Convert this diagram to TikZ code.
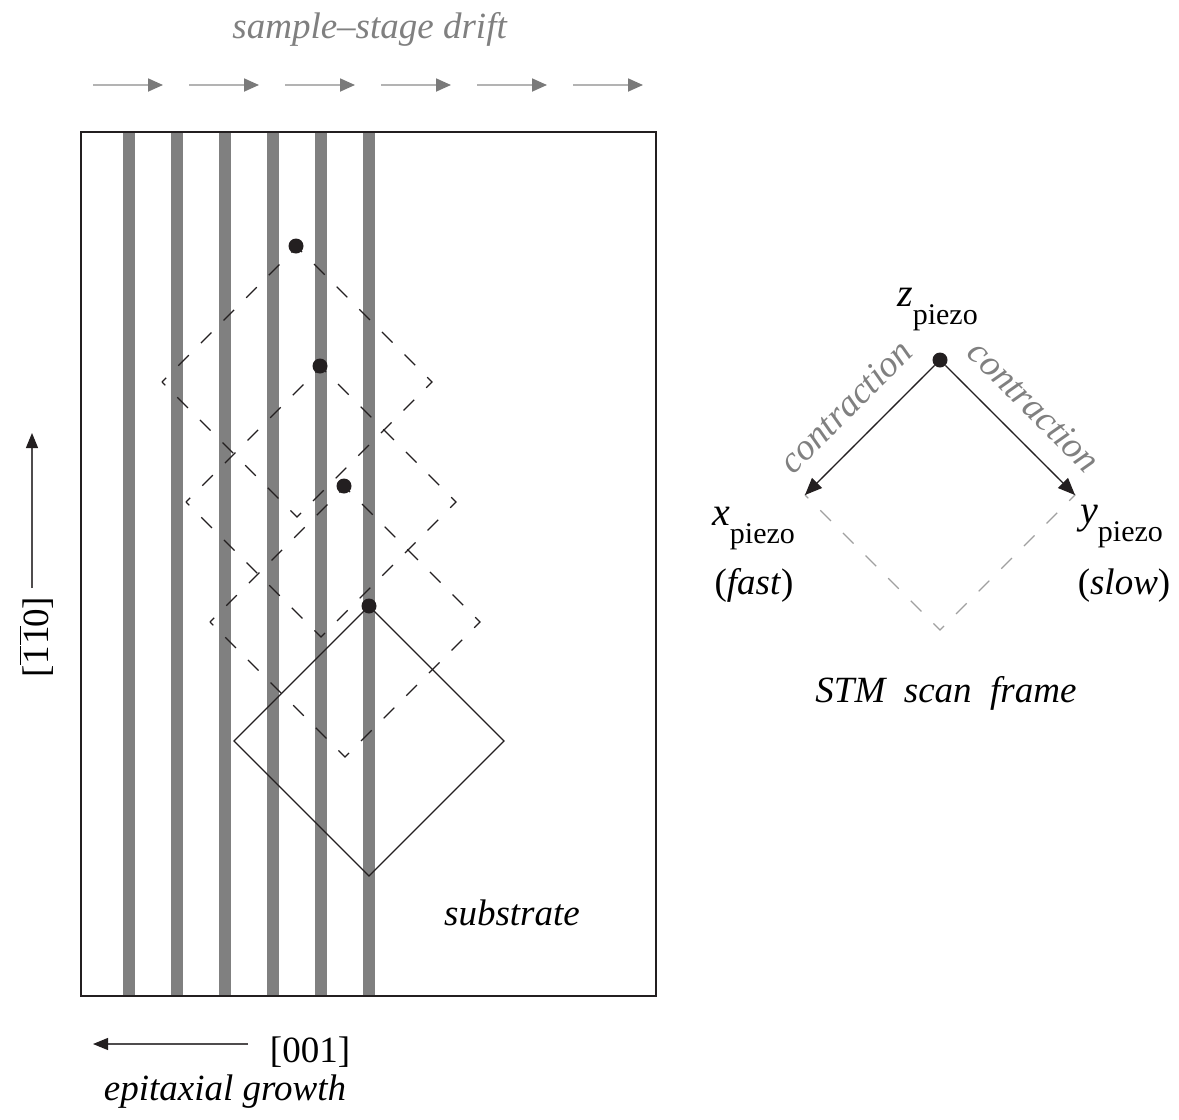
\documentclass[tikz,border=0pt]{standalone}
\usepackage{fontspec}
\setmainfont{Liberation Serif}
\usetikzlibrary{arrows.meta}

\definecolor{stripegray}{HTML}{808080}
\definecolor{inkdark}{HTML}{231F20}
\definecolor{driftline}{HTML}{B3B3B3}
\definecolor{drifthead}{HTML}{7A7A7A}
\definecolor{labelgray}{HTML}{808080}
\definecolor{framegray}{HTML}{A0A0A0}

% digit with an overbar, for Miller indices
\newcommand\barone{\leavevmode\vbox{\hrule height 1.3pt\kern 2.5pt\hbox{1}}}

\begin{document}
\begin{tikzpicture}[x=1pt,y=-1pt,
  txt/.style={font=\fontsize{37}{40}\selectfont, inner sep=0pt},
  graytxt/.style={txt, text=labelgray},
  stripe/.style={fill=stripegray, draw=none},
  dot/.style={circle, fill=inkdark, draw=none, inner sep=0pt, minimum size=15pt},
  scanpath/.style={draw=inkdark, line width=1.1pt, line join=miter,
    dash pattern=on 15pt off 17pt, dash phase=9pt},
  scanframe/.style={draw=inkdark, line width=1.1pt, line join=miter},
  piezoframe/.style={draw=framegray, line width=1.1pt, line join=miter,
    dash pattern=on 15pt off 17pt, dash phase=9pt},
  drift/.style={draw=driftline, line width=1.8pt,
    -{Triangle[length=15pt,width=13pt,color=drifthead]}},
  axis/.style={draw=inkdark!80, line width=1.1pt,
    -{Triangle[length=15pt,width=12pt,color=inkdark]}},
  piezoarrow/.style={draw=inkdark, line width=1.1pt,
    -{Triangle[length=17pt,width=14pt]}},
]
\useasboundingbox (0,0) rectangle (1179,1120);

% ---- sample-stage drift ----
\node[graytxt, anchor=base] (driftlabel) at (370,38) {\textit{sample–stage drift}};
\foreach \i in {0,...,5}{
  \coordinate (ds\i) at ({93+96*\i},85);
  \coordinate (de\i) at ({163+96*\i},85);
  \draw[drift] (ds\i) -- (de\i);
}

% ---- substrate with step stripes ----
\foreach \i in {0,...,5}{
  \fill[stripe] ({122.5+48*\i},132) rectangle ({135+48*\i},996);
}
\draw[inkdark, line width=1.2pt] (81,132) rectangle (656,996);
\node[txt, anchor=base] (substrate) at (512,925) {\textit{substrate}};

% ---- successive scan frames (dashed) and the current one (solid) ----
\foreach \cx/\cy in {297/382, 321/502, 345/622}{
  \draw[scanpath] (\cx-135,\cy) -- (\cx,\cy-135) -- (\cx+135,\cy) -- (\cx,\cy+135) -- cycle;
}
\draw[scanframe] (234,741) -- (369,606) -- (504,741) -- (369,876) -- cycle;

\node[dot] (tip1) at (296,246) {};
\node[dot] (tip2) at (320,366) {};
\node[dot] (tip3) at (344,486) {};
\node[dot] (tip4) at (369,606) {};

% ---- crystal directions ----
\coordinate (vtail) at (32,588);
\coordinate (vhead) at (32,433);
\draw[axis] (vtail) -- (vhead);
\node[txt, rotate=90, anchor=base] (vlabel) at (48,637)
  {[\barone\kern1.5pt\barone\kern-1.5pt0]};

\coordinate (htail) at (248,1044);
\coordinate (hhead) at (93,1044);
\draw[axis] (htail) -- (hhead);
\node[txt, anchor=base] (hlabel) at (310,1062) {[001]};
\node[txt, anchor=base] (growth) at (225,1100) {\textit{epitaxial growth}};

% ---- STM scan frame ----
\coordinate (ztop) at (940,360);
\coordinate (xv) at (805,495);
\coordinate (yv) at (1075,495);
\coordinate (zbot) at (940,630);
\draw[piezoframe] (xv) -- (ztop) -- (yv) -- (zbot) -- cycle;
\node[dot] (zdot) at (ztop) {};
\draw[piezoarrow] (zdot) -- (xv)
  node[graytxt, midway, sloped, above=21pt] (cl) {\textit{contraction}};
\draw[piezoarrow] (zdot) -- (yv)
  node[graytxt, midway, sloped, above=21pt] (cr) {\textit{contraction}};

\node[anchor=base west, inner sep=0pt] (zlabel) at (897,306)
  {\fontsize{40}{40}\selectfont\textit{z}\raisebox{-18pt}{\fontsize{30}{30}\selectfont piezo}};
\node[anchor=base west, inner sep=0pt] (xlabel) at (712,525)
  {\fontsize{40}{40}\selectfont\textit{x}\raisebox{-18pt}{\fontsize{30}{30}\selectfont piezo}};
\node[anchor=base west, inner sep=0pt] (ylabel) at (1080,523)
  {\fontsize{40}{40}\selectfont\textit{y}\raisebox{-18pt}{\fontsize{30}{30}\selectfont piezo}};
\node[txt, anchor=base] (fast) at (754,594) {(\textit{fast})};
\node[txt, anchor=base] (slow) at (1124,594) {(\textit{slow})};
\node[txt, anchor=base] (framelabel) at (946,702) {\textit{STM\ \ scan\ \ frame}};
\end{tikzpicture}
\end{document}
